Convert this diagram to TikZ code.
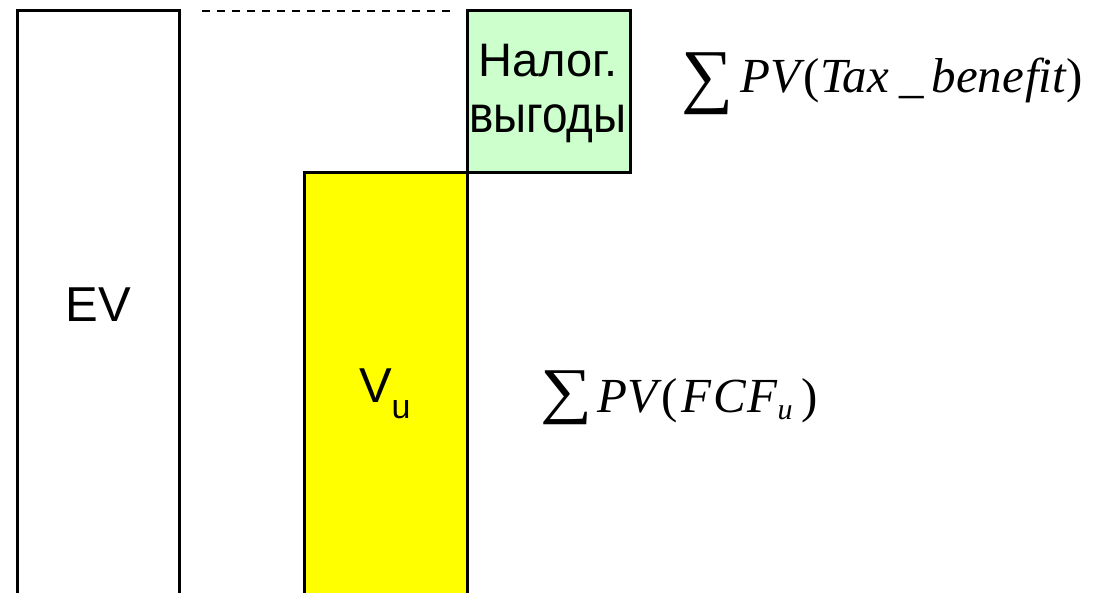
\documentclass[tikz,border=0pt]{standalone}
\usepackage{fontspec}
\usepackage{graphicx}
\setmainfont{Liberation Sans}
\newfontfamily\tmsfont{Liberation Serif}
\definecolor{boxyellow}{RGB}{255,255,0}
\definecolor{boxgreen}{RGB}{204,255,204}
\begin{document}
\begin{tikzpicture}[x=1pt,y=-1pt,
  bar/.style={draw=black, line width=3pt, inner sep=0pt, outer sep=0pt, anchor=north west},
  lbl/.style={inner sep=0pt, outer sep=0pt, font=\fontsize{49}{56}\selectfont},
  frm/.style={inner sep=0pt, outer sep=0pt, anchor=base west, font=\tmsfont\fontsize{49}{52}\selectfont},
  sigma/.style={inner sep=0pt, outer sep=0pt, anchor=north west}]
\useasboundingbox (0,0) rectangle (1112,593);
\clip (0,0) rectangle (1112,593);
\fill[white] (0,0) rectangle (1112,593);
% boxes
\node[bar, fill=white, minimum width=162pt, minimum height=600pt] (ev) at (17,11) {};
\node[bar, fill=boxyellow, minimum width=163pt, minimum height=440pt] (vu) at (304,173) {};
\node[bar, fill=boxgreen, minimum width=163pt, minimum height=162pt] (tax) at (467,11) {};
% dashed line
\coordinate (dl) at (202,11);
\coordinate (dr) at (452,11);
\draw[line width=2pt, dash pattern=on 8pt off 7pt] (dl) -- (dr);
% labels
\node[lbl] (evl) at (98,305) {EV};
\node[lbl, anchor=base west] (vul) at (359,403) {V\raisebox{-16pt}{\fontsize{34}{40}\selectfont u}};
\node[inner sep=0pt, font=\fontsize{47}{60}\selectfont, align=center] (taxl) at (548,93) {Налог.\\[-4pt]\scalebox{1.02}[1.15]{\fontsize{45}{50}\selectfont выгоды}};
% formulas
\node[sigma] (s1) at (681,53) {\resizebox*{52pt}{62pt}{\tmsfont ∑}};
\node[frm] (f1) at (740,93) {\itshape P\kern1pt V\kern3pt\upshape(\itshape Tax\hspace{10pt}\_\hspace{8pt}bene\kern1pt f\kern0pt i\kern0pt t\upshape)};
\node[sigma] (s2) at (540,371) {\resizebox*{52pt}{54pt}{\tmsfont ∑}};
\node[frm] (f2) at (597,413) {\itshape P\kern1pt V\kern4pt\upshape(\kern3pt\itshape F\kern2pt C\kern2pt F\raisebox{-7pt}{\fontsize{30}{30}\selectfont u}\upshape\kern9pt)};
\end{tikzpicture}
\end{document}
